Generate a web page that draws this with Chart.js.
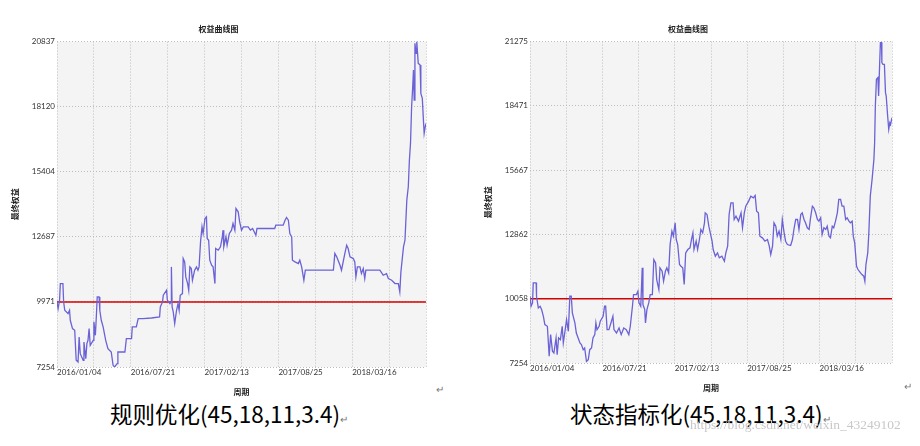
<!DOCTYPE html>
<html><head><meta charset="utf-8">
<script src="https://cdn.jsdelivr.net/npm/chart.js@4/dist/chart.umd.min.js"></script>
<style>
body{margin:0;background:#fff;width:920px;height:446px;position:relative;overflow:hidden;font-family:"Noto Sans CJK SC",sans-serif}
.c{position:absolute}
.cap{position:absolute;font-family:"Noto Sans CJK SC";font-size:22.5px;color:#000;top:397px;white-space:nowrap}
.rt{position:absolute;font-size:10px;color:#777}
.wm{position:absolute;left:690px;top:417px;font-size:13.5px;color:#c8c8c8;font-family:"Liberation Serif",serif;white-space:nowrap}
</style></head><body>
<div class="c" id="w1" style="left:10px;top:20px;width:417px;height:377px"><canvas id="c1"></canvas></div>
<div class="c" id="w2" style="left:483px;top:20px;width:410px;height:373px"><canvas id="c2"></canvas></div>
<div class="cap" style="left:110px">规则优化(45,18,11,3.4)<span style="font-size:10px;color:#777">↵</span></div>
<div class="cap" style="left:570px">状态指标化(45,18,11,3.4)<span style="font-size:10px;color:#777">↵</span></div>
<div class="rt" style="left:436px;top:381px">↵</div>
<div class="rt" style="left:904px;top:378px">↵</div>
<div class="wm">https://blog.csdn.net/weixin_43249102</div>
<script>
const xTickLabels=['2016/01/04','2016/07/21','2017/02/13','2017/08/25','2018/03/16'];
const leftYTicks=[7254,9971,12687,15404,18120,20837];
const rightYTicks=[7254,10058,12862,15667,18471,21275];
const leftBase=9971, rightBase=10058;
const leftX=[0,0.3,0.7,0.9,1.6,1.8,2.1,3.0,3.4,3.6,4.2,4.8,5.2,5.7,6.0,6.3,7.1,7.3,7.8,8.1,8.4,8.7,9.0,9.8,10.0,10.4,10.7,10.9,11.4,11.6,12.0,12.5,13.2,13.8,14.7,15.2,15.6,16.3,16.5,18.4,18.8,20.2,20.4,21.5,22.0,23.3,25.6,27.8,28.0,28.6,28.8,29.7,29.9,30.6,30.9,31.0,31.2,31.5,31.9,32.4,32.8,33.1,33.4,34.0,34.2,34.6,34.9,35.4,35.7,36.0,36.4,36.7,37.3,37.8,38.2,38.5,38.9,39.3,39.6,40.1,40.5,40.7,41.1,41.4,41.9,42.3,42.8,43.0,43.7,44.3,44.8,45.0,45.2,45.8,46.1,46.7,47.3,47.7,48.2,48.5,49.1,49.5,50.0,50.5,51.8,52.4,53.0,53.9,54.2,59.0,59.3,61.3,61.8,62.2,62.7,63.1,63.6,63.8,64.5,65.4,65.8,66.3,66.9,67.3,74.9,75.3,75.8,76.7,77.1,78.0,78.5,78.9,79.4,80.3,80.7,81.0,81.4,82.1,82.5,83.0,83.4,83.7,87.5,88.4,89.3,89.8,90.7,91.6,92.5,92.9,93.2,93.9,94.3,94.8,95.2,95.5,95.8,96.1,96.4,96.6,96.8,97.0,97.3,97.5,97.9,98.4,98.6,99.0,99.3,99.5,99.8,100];
const leftY=[9970,9692,10040,10737,10737,9970,9622,9483,9622,9204,8856,8786,7533,7463,8508,7811,7533,8299,7602,8229,8368,8856,8159,8368,9135,8577,9483,10179,10179,9622,9204,8926,8368,8020,7881,7324,7254,7393,7881,7881,8438,8438,8926,8926,9274,9274,9300,9344,9761,9970,10249,10458,10040,9901,9970,11433,9761,9552,9065,9622,9901,9622,10249,10319,11781,11642,11015,10737,10458,11433,11363,10876,11294,11433,11294,11433,12478,13105,12826,13453,13523,12617,12547,11712,11503,11433,10737,12199,12129,12269,12687,12965,12269,12687,12338,12826,12965,13244,12965,13871,13731,13314,12965,13105,13105,12965,13035,12756,13035,13035,13174,13174,13383,13495,13383,12826,12687,11712,11642,11572,11712,11433,10876,11294,11294,11990,11851,11503,11294,11990,12338,12199,11851,11781,11642,11015,11433,11433,11154,11363,10945,11294,11294,11085,11154,10945,10876,10737,10737,10388,11224,12269,12547,14219,14776,15891,16587,18119,18955,19652,18398,20766,20348,20837,19930,19860,18677,18468,17562,17005,17285,17423];
const rightX=[0,0.3,0.7,0.9,1.7,1.8,2.3,2.8,3.2,3.7,4.1,4.8,5.3,5.7,6.2,6.6,7.2,7.5,7.9,8.4,8.9,9.2,9.6,10.1,10.6,11.0,11.4,11.7,12.4,12.8,13.3,13.8,14.2,14.7,15.1,15.6,16.1,16.5,17.0,17.4,17.9,18.2,18.5,19.1,19.4,20.2,20.6,20.9,21.3,21.8,22.5,22.9,23.2,23.9,24.6,25.2,25.9,26.6,27.3,27.7,28.3,28.6,29.4,29.8,30.1,30.6,31.0,31.2,31.7,31.9,32.3,32.8,33.2,33.8,34.2,34.7,35.0,35.6,35.9,36.5,36.9,37.4,37.8,38.3,38.7,39.2,39.6,40.1,40.4,40.8,41.3,41.7,42.2,42.6,43.0,43.6,44.2,44.6,45.0,45.3,45.9,46.3,46.8,47.2,47.7,48.2,48.4,48.9,49.4,49.8,50.3,50.6,51.2,51.8,52.3,53.0,53.7,54.1,54.6,55.0,55.5,56.1,56.4,56.9,57.6,58.3,58.7,59.2,59.6,60.4,61.0,61.7,62.2,62.6,63.1,63.5,64.2,64.9,65.6,66.1,66.5,67.0,67.4,67.9,68.3,68.8,69.3,69.7,70.2,70.6,71.1,72.0,72.5,72.9,73.4,73.9,74.3,74.8,75.2,75.7,76.1,76.6,77.1,77.5,78.0,78.4,78.9,79.4,79.8,80.3,80.7,81.2,81.7,82.1,82.6,83.0,83.5,83.9,84.4,84.9,85.3,85.8,86.2,86.7,87.2,87.6,88.1,88.5,89.0,89.3,89.7,90.2,90.6,91.3,91.7,92.2,92.5,92.8,93.3,93.6,94.0,94.5,95.0,95.2,95.4,95.7,96.1,96.3,96.6,96.8,97.1,97.2,97.5,97.9,98.2,98.4,98.8,99.1,99.4,99.6,100];
const rightY=[10166,9729,9875,10748,10748,10166,9656,9729,9584,9292,8928,8856,7545,8492,7764,7691,8346,7618,8346,8273,8856,8128,8564,9147,8637,10166,10166,9438,9001,8564,8346,8128,8055,7836,7909,7327,7400,7836,7909,8346,8492,9001,8710,8856,9074,9292,9729,9729,8710,8710,9074,9292,8710,8564,8783,8492,8783,8710,8492,8856,9729,10239,10239,10384,9875,9729,11404,9802,9584,9001,9584,9875,10239,10239,11768,11622,10894,10457,11404,11258,10821,11258,11404,11185,12423,13005,12787,13369,12641,12423,11549,11476,11404,10676,12059,12204,12277,12641,12932,12204,12568,12204,12641,13078,12932,13369,13806,13733,13224,12932,12568,12204,11913,12059,11840,11913,11695,12059,12350,13733,14243,14243,13515,13660,13442,13806,13151,13806,14097,14316,14534,14461,14564,13879,13806,12787,12714,12568,12641,12350,11986,12350,13369,13224,12787,13005,12641,13515,12932,12568,12423,12379,12641,13078,13515,13515,13078,13733,13806,13515,13369,13151,13078,13588,14097,14024,13806,13515,13442,13588,12860,13151,13078,13224,12787,12714,13224,13151,13442,13806,14388,14388,14097,14097,13515,13588,13442,13369,13442,12787,12496,11476,11331,11185,11112,11040,10821,11549,12059,12932,14534,15262,16136,16864,18465,19630,19703,18902,20358,21232,21232,20358,20285,20285,19048,18902,18028,17446,17737,17664,17955];

const bgPlugin={id:'bg',beforeDraw(ch){const a=ch.chartArea,c=ch.ctx;c.save();c.fillStyle='#f4f4f4';c.fillRect(a.left,a.top,a.right-a.left,a.bottom-a.top);c.restore();}};
function make(id,xs,ys,yt,base,yw){
  const pts=xs.map((x,i)=>({x:x,y:ys[i]}));
  new Chart(document.getElementById(id),{type:'line',
    data:{datasets:[
      {data:pts,borderColor:'#6a62d6',borderWidth:1.3,pointRadius:0,tension:0},
      {data:[{x:0,y:base},{x:100,y:base}],borderColor:'#d40000',borderWidth:1.5,pointRadius:0}
    ]},
    options:{responsive:true,maintainAspectRatio:false,animation:false,
      layout:{padding:0},
      plugins:{legend:{display:false},tooltip:{enabled:false},
        title:{display:true,text:'权益曲线图',font:{size:8,weight:'bold',family:'Noto Sans CJK SC'},color:'#222',padding:{top:4,bottom:8}}},
      scales:{
        x:{type:'linear',min:0,max:100,
          afterBuildTicks(s){s.ticks=[0,10,20,30,40,50,60,70,80,90,100].map(v=>({value:v}));},
          afterFit(s){s.height=30;},
          ticks:{autoSkip:false,maxRotation:0,align:'start',padding:1,color:'#333',font:{size:8,family:'Lato'},
            callback:(v)=>{const i=v/20;return Number.isInteger(i)&&i<xTickLabels.length?xTickLabels[i]:'';}},
          grid:{color:'#bdbdbd',tickLength:0,lineWidth:1},border:{display:false,dash:[1,2]},
          title:{display:true,text:'周期',font:{size:8,weight:'bold',family:'Noto Sans CJK SC'},color:'#222',padding:{top:0,bottom:0}}},
        y:{min:yt[0],max:yt[yt.length-1],
          afterBuildTicks(s){s.ticks=yt.map(v=>({value:v}));},
          afterFit(s){s.width=yw;},
          ticks:{padding:2,color:'#333',font:{size:8,family:'Lato'},callback:v=>String(v)},
          grid:{color:'#bdbdbd',tickLength:0,lineWidth:1},border:{display:false,dash:[1,2]},
          title:{display:true,text:'最终权益',font:{size:8,weight:'bold',family:'Noto Sans CJK SC'},color:'#222',padding:{top:0,bottom:2}}}
      }},
    plugins:[bgPlugin]});
}
make('c1',leftX,leftY,leftYTicks,leftBase,47);
make('c2',rightX,rightY,rightYTicks,rightBase,47);
</script></body></html>
